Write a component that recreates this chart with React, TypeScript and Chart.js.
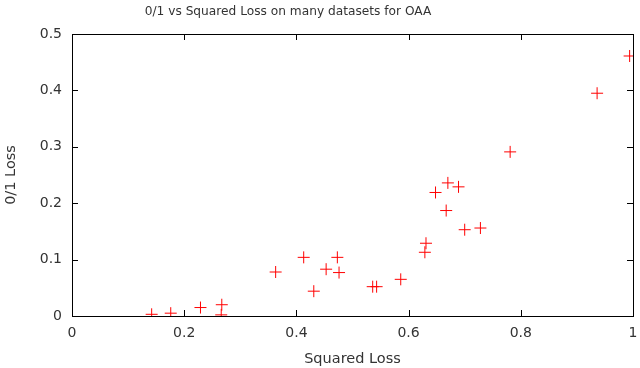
import React, { useEffect, useRef } from "react";
import { Chart, registerables } from "chart.js";

Chart.register(...registerables);

const chartTitle = "0/1 vs Squared Loss on many datasets for OAA";
const xTitle = "Squared Loss";
const yTitle = "0/1 Loss";

const squaredLoss = [
  0.142, 0.176, 0.229, 0.267, 0.266, 0.363, 0.413, 0.431, 0.453, 0.473, 0.476,
  0.536, 0.543, 0.586, 0.629, 0.631, 0.648, 0.667, 0.670, 0.689, 0.700, 0.728,
  0.781, 0.936, 0.994,
];
const zeroOneLoss = [
  0.003, 0.005, 0.015, 0.020, 0.002, 0.078, 0.104, 0.044, 0.083, 0.104, 0.077,
  0.052, 0.052, 0.065, 0.113, 0.129, 0.219, 0.187, 0.236, 0.229, 0.153, 0.156,
  0.291, 0.395, 0.461,
];

const FONT = "'DejaVu Sans', sans-serif";
const TEXT = "#333";

const framePlugin = {
  id: "gnuplotFrame",
  afterDraw(chart: any) {
    const { ctx, chartArea, scales } = chart;
    const { left, right, top, bottom } = chartArea;
    ctx.save();
    ctx.strokeStyle = "#000";
    ctx.lineWidth = 1;
    ctx.strokeRect(left + 0.5, top + 0.5, right - left, bottom - top);
    const tl = 6;
    ctx.beginPath();
    scales.x.ticks.forEach((t: any) => {
      const px = Math.round(scales.x.getPixelForValue(t.value)) + 0.5;
      ctx.moveTo(px, bottom);
      ctx.lineTo(px, bottom - tl);
      ctx.moveTo(px, top);
      ctx.lineTo(px, top + tl);
    });
    scales.y.ticks.forEach((t: any) => {
      const py = Math.round(scales.y.getPixelForValue(t.value)) + 0.5;
      ctx.moveTo(left, py);
      ctx.lineTo(left + tl, py);
      ctx.moveTo(right, py);
      ctx.lineTo(right - tl, py);
    });
    ctx.stroke();
    ctx.fillStyle = TEXT;
    ctx.font = `12.2px ${FONT}`;
    ctx.textAlign = "center";
    ctx.textBaseline = "middle";
    ctx.fillText(chartTitle, 288, 12);
    ctx.restore();
  },
};

const fmt = (v: any) => String(Number(Number(v).toFixed(1)));

export default function App() {
  const ref = useRef<HTMLCanvasElement>(null);
  useEffect(() => {
    document.body.style.margin = "0";
    const chart = new Chart(ref.current!, {
      type: "scatter",
      data: {
        datasets: [
          {
            data: squaredLoss.map((x, i) => ({ x, y: zeroOneLoss[i] })),
            pointStyle: "cross",
            pointRadius: 6,
            pointBorderWidth: 1,
            borderColor: "#ff0000",
            backgroundColor: "#ff0000",
          },
        ],
      },
      plugins: [framePlugin],
      options: {
        animation: false,
        responsive: false,
        layout: { padding: { left: 0, right: 0, top: 34, bottom: 0 } },
        plugins: { legend: { display: false }, tooltip: { enabled: false } },
        scales: {
          x: {
            type: "linear",
            min: 0,
            max: 1,
            ticks: { stepSize: 0.2, color: TEXT, font: { family: FONT, size: 14 }, padding: 9, callback: fmt },
            grid: { display: false, drawTicks: false },
            border: { display: false },
            title: { display: true, text: xTitle, color: TEXT, font: { family: FONT, size: 14.5 }, padding: { top: 4, bottom: 0 } },
            afterFit(s: any) { s.height = 52; s.paddingRight = 6; },
          },
          y: {
            type: "linear",
            min: 0,
            max: 0.5,
            ticks: { stepSize: 0.1, color: TEXT, font: { family: FONT, size: 14 }, padding: 10, callback: fmt },
            grid: { display: false, drawTicks: false },
            border: { display: false },
            title: { display: true, text: yTitle, color: TEXT, font: { family: FONT, size: 14.5 }, padding: { top: 3, bottom: 10 } },
            afterFit(s: any) { s.width = 72; },
          },
        },
      },
    });
    return () => chart.destroy();
  }, []);
  return (
    <div style={{ width: 640, height: 368 }}>
      <canvas ref={ref} width={640} height={368} style={{ display: "block" }} />
    </div>
  );
}
